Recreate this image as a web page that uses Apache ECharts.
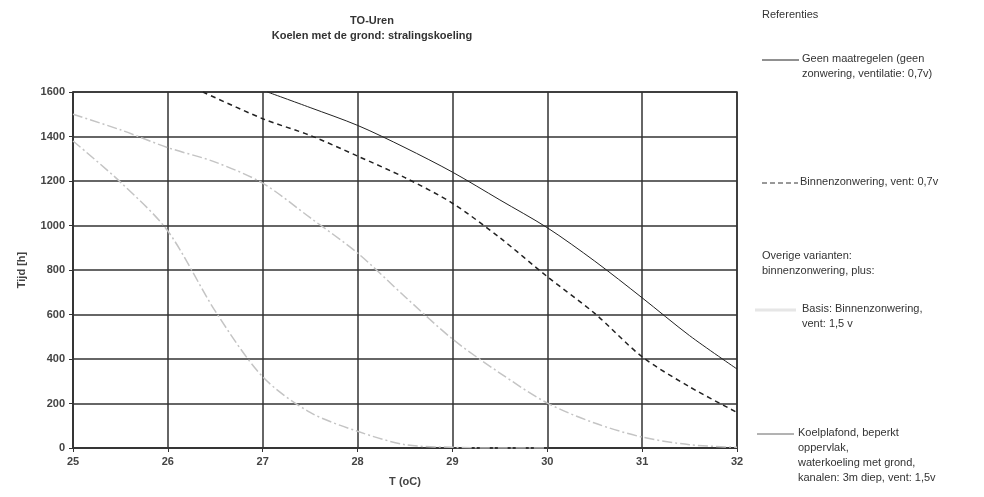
<!DOCTYPE html>
<html>
<head>
<meta charset="utf-8">
<script src="https://cdn.jsdelivr.net/npm/echarts@6/dist/echarts.min.js"></script>
<style>
  html, body { margin: 0; padding: 0; background: #fff; }
  #chart { width: 984px; height: 497px; }
</style>
</head>
<body>
<div id="chart"></div>
<script>
// Temperature (oC) and hours above that temperature, per variant
const tempGeen   = [27.05, 27.5, 28, 28.5, 29, 29.5, 30, 30.5, 31, 31.5, 32];
const urenGeen   = [1600, 1530, 1450, 1350, 1240, 1115, 990, 840, 675, 505, 355];

const tempBinnen = [26.37, 27, 27.5, 28, 28.5, 29, 29.5, 30, 30.5, 31, 31.5, 32];
const urenBinnen = [1600, 1480, 1405, 1312, 1215, 1100, 945, 770, 605, 410, 275, 160];

const tempBasis  = [25, 25.5, 26, 26.5, 27, 27.5, 28, 28.5, 29, 29.5, 30, 30.5, 31, 31.5, 32];
const urenBasis  = [1500, 1430, 1350, 1285, 1190, 1035, 876, 680, 490, 337, 202, 112, 49, 15, 3];

const tempKoel   = [25, 25.5, 26, 26.5, 27, 27.5, 28, 28.5, 29, 29.5, 30];
const urenKoel   = [1380, 1195, 975, 615, 320, 160, 75, 15, 3, 0, 0];

const xTicks = [25, 26, 27, 28, 29, 30, 31, 32];
const yTicks = [0, 200, 400, 600, 800, 1000, 1200, 1400, 1600];

const pairs = (xs, ys) => xs.map((x, i) => [x, ys[i]]);

const chart = echarts.init(document.getElementById('chart'));
const labelFont = { fontFamily: 'Liberation Sans', fontSize: 11, fontWeight: 'bold', color: '#444' };
const legendFont = { fontFamily: 'Liberation Sans', fontSize: 11, fill: '#333' };

function legendText(x, y, lines) {
  return lines.map((t, i) => ({
    type: 'text', left: x, top: y + i * 15,
    style: Object.assign({ text: t }, legendFont)
  }));
}
function legendLine(x1, x2, y, style) {
  return { type: 'line', shape: { x1: x1, y1: y, x2: x2, y2: y }, style: style };
}

chart.setOption({
  animation: false,
  backgroundColor: '#fff',
  title: {
    text: 'TO-Uren\nKoelen met de grond: stralingskoeling',
    left: 367, top: 8, textAlign: 'center',
    textStyle: { fontFamily: 'Liberation Sans', fontSize: 11, fontWeight: 'bold', color: '#333', lineHeight: 15 }
  },
  grid: { left: 73, right: 247, top: 92, bottom: 49, show: true, borderColor: '#333', borderWidth: 1.5 },
  xAxis: {
    type: 'value', min: xTicks[0], max: xTicks[xTicks.length - 1], interval: 1,
    name: 'T (oC)', nameLocation: 'middle', nameGap: 28,
    nameTextStyle: labelFont,
    axisLine: { lineStyle: { color: '#333', width: 1.5 } },
    axisTick: { show: true, length: 4, lineStyle: { color: '#333' } },
    axisLabel: Object.assign({ margin: 8, formatter: v => String(v) }, labelFont),
    splitLine: { show: true, lineStyle: { color: '#333', width: 1.5 } }
  },
  yAxis: {
    type: 'value', min: yTicks[0], max: yTicks[yTicks.length - 1], interval: 200,
    name: 'Tijd [h]', nameLocation: 'middle', nameGap: 46, nameRotate: 90,
    nameTextStyle: labelFont,
    axisLine: { show: true, lineStyle: { color: '#333', width: 1.5 } },
    axisTick: { show: true, length: 4, lineStyle: { color: '#333' } },
    axisLabel: Object.assign({ margin: 8, formatter: v => String(v) }, labelFont),
    splitLine: { show: true, lineStyle: { color: '#333', width: 1.5 } }
  },
  series: [
    {
      name: 'Geen maatregelen', type: 'line', smooth: 0.3, symbol: 'none',
      data: pairs(tempGeen, urenGeen),
      lineStyle: { color: '#222', width: 1 }
    },
    {
      name: 'Binnenzonwering', type: 'line', smooth: 0.3, symbol: 'none',
      data: pairs(tempBinnen, urenBinnen),
      lineStyle: { color: '#222', width: 1.5, type: [5, 4] }
    },
    {
      name: 'Basis', type: 'line', smooth: 0.3, symbol: 'none',
      data: pairs(tempBasis, urenBasis),
      lineStyle: { color: '#c4c4c4', width: 1.5, type: [10, 3, 2, 3] }
    },
    {
      name: 'Koelplafond', type: 'line', smooth: 0.3, symbol: 'none',
      data: pairs(tempKoel, urenKoel),
      lineStyle: { color: '#c4c4c4', width: 1.5, type: [10, 3, 2, 3] }
    }
  ],
  graphic: [].concat(
    legendText(762, 9, ['Referenties']),
    [legendLine(762, 799, 60, { stroke: '#222', lineWidth: 1 })],
    legendText(802, 53, ['Geen maatregelen (geen', 'zonwering, ventilatie: 0,7v)']),
    [legendLine(762, 798, 183, { stroke: '#333', lineWidth: 1, lineDash: [5, 3] })],
    legendText(800, 176, ['Binnenzonwering, vent: 0,7v']),
    legendText(762, 250, ['Overige varianten:', 'binnenzonwering, plus:']),
    [legendLine(755, 796, 310, { stroke: '#e6e6e6', lineWidth: 3 })],
    legendText(802, 303, ['Basis: Binnenzonwering,', 'vent: 1,5 v']),
    [legendLine(757, 794, 434, { stroke: '#666', lineWidth: 1 })],
    legendText(798, 427, ['Koelplafond, beperkt', 'oppervlak,', 'waterkoeling met grond,', 'kanalen: 3m diep, vent: 1,5v'])
  )
});
</script>
</body>
</html>
